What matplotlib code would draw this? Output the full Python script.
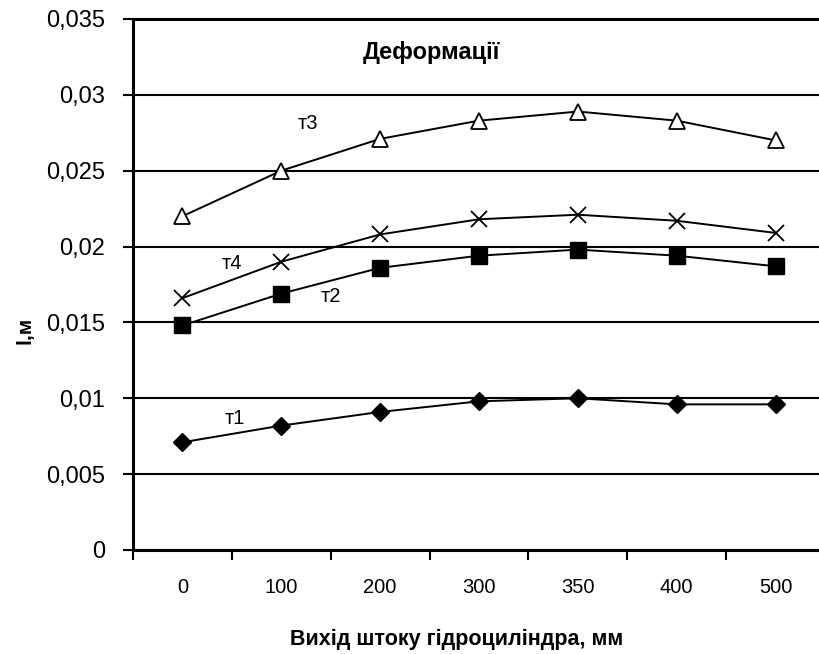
import numpy as np
import matplotlib.pyplot as plt
from matplotlib.ticker import FuncFormatter

plt.rcParams['font.family'] = ['Liberation Sans', 'DejaVu Sans']

# Вихід штоку, мм (категорії)
stroke = ["0", "100", "200", "300", "350", "400", "500"]

# Деформації l, м для точок т1..т4
t1 = [0.0071, 0.0082, 0.0091, 0.0098, 0.0100, 0.0096, 0.0096]
t2 = [0.0148, 0.0169, 0.0186, 0.0194, 0.0198, 0.0194, 0.0187]
t3 = [0.0220, 0.0250, 0.0271, 0.0283, 0.0289, 0.0283, 0.0270]
t4 = [0.0166, 0.0190, 0.0208, 0.0218, 0.0221, 0.0217, 0.0209]

fig = plt.figure(figsize=(8.2, 6.54), dpi=100)
ax = fig.add_axes([133/820, 1 - 550/654, 692/820, 531/654])

x = np.arange(len(stroke))
ax.plot(x, t3, '-', color='black', lw=1.4, marker='^', ms=11,
        mfc='white', mec='black', mew=1.3, zorder=3)
ax.plot(x, t4, '-', color='black', lw=1.4, marker='x', ms=11,
        mec='black', mew=1.3, zorder=3)
ax.plot(x, t2, '-', color='black', lw=1.4, marker='s', ms=11,
        mfc='black', mec='black', zorder=3)
ax.plot(x, t1, '-', color='black', lw=1.4, marker='D', ms=9,
        mfc='black', mec='black', zorder=3)

# підписи кривих
ax.text(1.27, 0.0281, "т3", fontsize=14.5, ha='center', va='center')
ax.text(0.5, 0.0189, "т4", fontsize=14.5, ha='center', va='center')
ax.text(1.5, 0.0167, "т2", fontsize=14.5, ha='center', va='center')
ax.text(0.53, 0.0087, "т1", fontsize=14.5, ha='center', va='center')
ax.text(2.52, 0.0328, "Деформації", fontsize=17, fontweight='bold',
        ha='center', va='center')

ax.set_ylim(0, 0.035)
ax.set_xlim(-0.5, len(stroke) - 0.5)
ax.set_yticks(np.arange(0, 0.0351, 0.005))
ax.yaxis.set_major_formatter(FuncFormatter(
    lambda v, _: "0" if abs(v) < 1e-12 else f"{v:.3f}".rstrip('0').replace('.', ',')))
ax.grid(axis='y', color='black', lw=1.5)
ax.set_axisbelow(True)

# поділки між категоріями, підписи по центру
ax.set_xticks(np.arange(-0.5, len(stroke), 1))
ax.set_xticklabels([])
ax.set_xticks(x, minor=True)
ax.set_xticklabels(stroke, minor=True)
ax.tick_params(axis='x', which='major', length=7, width=1.5, direction='out')
ax.tick_params(axis='x', which='minor', length=0, pad=20, labelsize=14.5)
ax.tick_params(axis='y', length=7, width=1.5, direction='out', pad=13, labelsize=17)

for side in ['left', 'bottom', 'top', 'right']:
    ax.spines[side].set_linewidth(2.2)

ax.set_xlabel("Вихід штоку гідроциліндра, мм", fontsize=15.5, fontweight='bold')
ax.xaxis.set_label_coords(0.468, -0.148)
ax.set_ylabel("l,м", fontsize=15, fontweight='bold')
ax.yaxis.set_label_coords(-0.143, 0.414)

fig.savefig("out.png", dpi=100)
